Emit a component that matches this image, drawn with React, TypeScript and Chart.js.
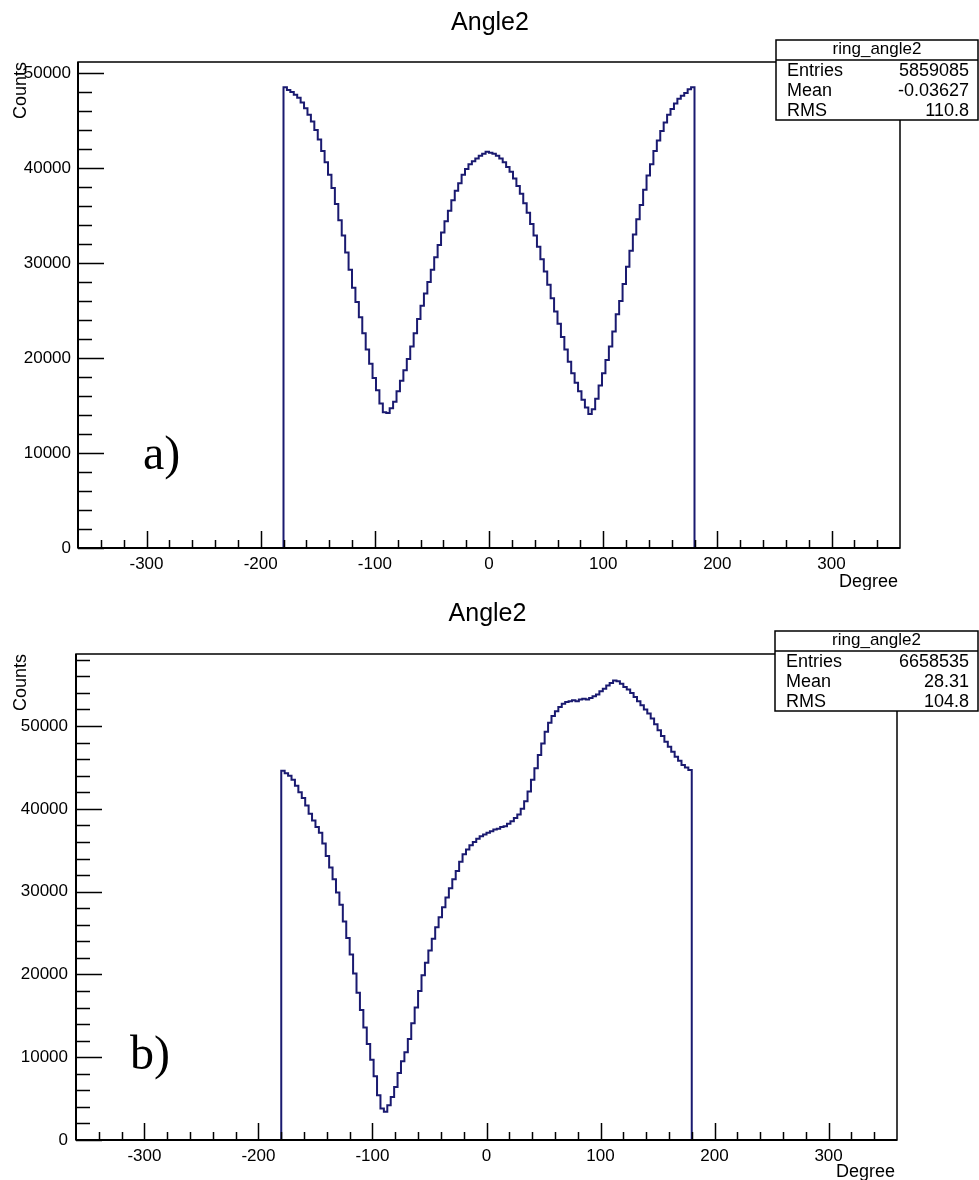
import React, { useEffect, useRef } from "react";
import { Chart, registerables } from "chart.js";

Chart.register(...registerables);

// ---------- data ----------
const binStart = -180;
const binWidth = 3;
const xTickValues = [-300, -200, -100, 0, 100, 200, 300];
const yTickValues = [0, 10000, 20000, 30000, 40000, 50000];

const histTitle = "Angle2";
const histName = "ring_angle2";
const xAxisTitle = "Degree";
const yAxisTitle = "Counts";
const statsLabels = ["Entries", "Mean", "RMS"];
const statsValuesA = ["5859085", "-0.03627", "110.8"];
const statsValuesB = ["6658535", "28.31", "104.8"];

// counts per 3-degree bin, from -180 to 180 (panel a)
const countsA = [
  48500, 48200, 48000, 47700, 47400, 46900, 46300, 45600, 44900, 44000,
  43000, 41800, 40600, 39300, 37900, 36200, 34500, 32900, 31100, 29300,
  27400, 25900, 24300, 22600, 20900, 19400, 17900, 16600, 15200, 14300,
  14200, 14700, 15400, 16500, 17600, 18700, 19900, 21200, 22600, 24100,
  25500, 26800, 28000, 29300, 30600, 31900, 33200, 34400, 35500, 36600,
  37600, 38400, 39300, 39900, 40400, 40700, 41000, 41300, 41500, 41700,
  41600, 41500, 41300, 41000, 40600, 40100, 39600, 38900, 38100, 37300,
  36300, 35300, 34100, 32900, 31700, 30400, 29100, 27700, 26300, 24900,
  23600, 22200, 20900, 19600, 18400, 17400, 16500, 15600, 14800, 14100,
  14600, 15700, 17100, 18400, 19800, 21200, 22800, 24600, 26000, 27800,
  29600, 31300, 33000, 34600, 36100, 37700, 39200, 40400, 41800, 42900,
  43900, 44800, 45600, 46200, 46800, 47300, 47600, 47900, 48300, 48500,
];

// counts per 3-degree bin, from -180 to 180 (panel b)
const countsB = [
  44600, 44300, 44000, 43500, 42800, 42000, 41300, 40400, 39400, 38600,
  37800, 37100, 35800, 34300, 32900, 31500, 29900, 28400, 26400, 24400,
  22400, 20100, 17800, 15700, 13600, 11600, 9700, 7700, 5400, 3800,
  3400, 4200, 5200, 6400, 8100, 9500, 10600, 12200, 14100, 16000,
  18000, 19900, 21400, 22900, 24300, 25700, 26900, 28100, 29300, 30400,
  31500, 32500, 33600, 34500, 35100, 35600, 36000, 36400, 36700, 36900,
  37100, 37300, 37500, 37600, 37800, 37900, 38200, 38500, 38900, 39300,
  40000, 40900, 42100, 43500, 44900, 46500, 47900, 49300, 50400, 51200,
  51800, 52300, 52700, 52900, 53000, 53100, 53000, 53200, 53300, 53200,
  53400, 53600, 53800, 54200, 54500, 54900, 55200, 55500, 55400, 55100,
  54700, 54400, 54000, 53500, 53000, 52500, 52000, 51500, 50900, 50200,
  49500, 48800, 48100, 47500, 46900, 46300, 45800, 45300, 45000, 44700,
];

// ---------- helpers ----------
function histPoints(counts: number[]) {
  const pts: { x: number; y: number }[] = [{ x: binStart, y: 0 }];
  counts.forEach((c, i) => pts.push({ x: binStart + i * binWidth, y: c }));
  const end = binStart + counts.length * binWidth;
  pts.push({ x: end, y: counts[counts.length - 1] });
  pts.push({ x: end, y: 0 });
  return pts;
}

type Geom = {
  left: number;
  right: number;
  top: number;
  bottom: number;
  height: number;
  yMax: number;
  yPad: number;
  titleY: number;
  boxLeft: number;
  boxTop: number;
  boxBottom: number;
  tag: string;
  tagX: number;
  tagY: number;
  degreeY: number;
};

const SANS = "'Liberation Sans', Arial, Helvetica, sans-serif";

function Panel({ counts, stats, g }: { counts: number[]; stats: string[]; g: Geom }) {
  const ref = useRef<HTMLCanvasElement | null>(null);

  useEffect(() => {
    if (!ref.current) return;
    const decor = {
      id: "rootDecor",
      afterDraw(chart: any) {
        const ctx = chart.ctx as CanvasRenderingContext2D;
        const { left, right, top, bottom } = chart.chartArea;
        const xs = chart.scales.x;
        const ys = chart.scales.y;
        ctx.save();
        ctx.strokeStyle = "#000";
        ctx.fillStyle = "#000";

        // frame
        ctx.lineWidth = 1.5;
        ctx.strokeRect(left, top, right - left, bottom - top);
        ctx.lineWidth = 2;
        ctx.beginPath();
        ctx.moveTo(left, bottom);
        ctx.lineTo(right, bottom);
        ctx.moveTo(left, top);
        ctx.lineTo(left, bottom);
        ctx.stroke();

        // ticks (inward, ROOT style)
        ctx.lineWidth = 1.5;
        ctx.beginPath();
        for (let v = xs.min + 20; v < xs.max; v += 20) {
          const px = Math.round(xs.getPixelForValue(v)) + 0.5;
          const major = xTickValues.includes(v);
          ctx.moveTo(px, bottom);
          ctx.lineTo(px, bottom - (major ? 17 : 8));
        }
        for (let v = 0; v <= ys.max + 1e-6; v += 2000) {
          const py = Math.round(ys.getPixelForValue(v)) + 0.5;
          const major = v % 10000 === 0;
          ctx.moveTo(left, py);
          ctx.lineTo(left + (major ? 26 : 14), py);
        }
        ctx.stroke();

        // title
        ctx.font = `25px ${SANS}`;
        ctx.textAlign = "center";
        ctx.textBaseline = "middle";
        ctx.fillText(histTitle, (left + right) / 2 + 1, g.titleY);

        // axis titles
        ctx.font = `18px ${SANS}`;
        ctx.textAlign = "right";
        ctx.fillText(xAxisTitle, right - 2, g.degreeY);
        ctx.save();
        ctx.translate(21, top);
        ctx.rotate(-Math.PI / 2);
        ctx.font = `18px ${SANS}`;
        ctx.textAlign = "right";
        ctx.fillText(yAxisTitle, 0, 0);
        ctx.restore();

        // tag a) / b)
        ctx.font = `48px 'Liberation Serif', 'Times New Roman', serif`;
        ctx.textAlign = "left";
        ctx.textBaseline = "alphabetic";
        ctx.fillText(g.tag, g.tagX, g.tagY);

        // stats box (4 equal rows, ROOT TPaveStats style)
        const bw = 978 - g.boxLeft;
        const bh = g.boxBottom - g.boxTop;
        const rh = bh / 4;
        ctx.fillStyle = "#fff";
        ctx.fillRect(g.boxLeft, g.boxTop, bw, bh);
        ctx.lineWidth = 1.5;
        ctx.strokeRect(g.boxLeft, g.boxTop, bw, bh);
        ctx.beginPath();
        ctx.moveTo(g.boxLeft, g.boxTop + rh);
        ctx.lineTo(978, g.boxTop + rh);
        ctx.stroke();
        ctx.fillStyle = "#000";
        ctx.font = `17px ${SANS}`;
        ctx.textBaseline = "middle";
        ctx.textAlign = "center";
        ctx.fillText(histName, g.boxLeft + bw / 2, g.boxTop + rh / 2 - 1);
        ctx.font = `18px ${SANS}`;
        statsLabels.forEach((lab, i) => {
          const y = g.boxTop + rh * (i + 1.5) + 1;
          ctx.textAlign = "left";
          ctx.fillText(lab, g.boxLeft + 11, y);
          ctx.textAlign = "right";
          ctx.fillText(stats[i], 969, y);
        });
        ctx.restore();
      },
    };

    const chart = new Chart(ref.current, {
      type: "line",
      data: {
        datasets: [
          {
            data: histPoints(counts),
            stepped: "before",
            borderColor: "#1a1a70",
            borderWidth: 2,
            pointRadius: 0,
            fill: false,
          },
        ],
      },
      options: {
        animation: false,
        responsive: false,
        devicePixelRatio: 1,
        events: [],
        layout: { padding: { top: g.top, right: 979 - g.right, left: 0, bottom: 0 } },
        plugins: {
          legend: { display: false },
          title: { display: false },
          tooltip: { enabled: false },
        },
        scales: {
          x: {
            type: "linear",
            min: -360,
            max: 360,
            afterBuildTicks: (s: any) => {
              s.ticks = xTickValues.map((v) => ({ value: v }));
            },
            afterFit: (s: any) => {
              s.height = g.height - g.bottom;
            },
            grid: { display: false, drawTicks: false },
            border: { display: false },
            ticks: {
              padding: 6,
              color: "#000",
              maxRotation: 0,
              autoSkip: false,
              font: { family: SANS, size: 17 },
              callback: (v: any) => String(v),
            },
          },
          y: {
            type: "linear",
            min: 0,
            max: g.yMax,
            afterBuildTicks: (s: any) => {
              s.ticks = yTickValues.map((v) => ({ value: v }));
            },
            afterFit: (s: any) => {
              s.width = g.left;
            },
            grid: { display: false, drawTicks: false },
            border: { display: false },
            ticks: {
              padding: g.yPad,
              color: "#000",
              autoSkip: false,
              font: { family: SANS, size: 17 },
              callback: (v: any) => String(v),
            },
          },
        },
      },
      plugins: [decor],
    } as any);
    return () => chart.destroy();
  }, []);

  return <canvas ref={ref} width={979} height={g.height} style={{ display: "block" }} />;
}

const geomA: Geom = {
  left: 78,
  right: 900,
  top: 62,
  bottom: 548,
  height: 590,
  yMax: 51160,
  yPad: 7,
  titleY: 23,
  boxLeft: 776,
  boxTop: 40,
  boxBottom: 120,
  tag: "a)",
  tagX: 143,
  tagY: 469,
  degreeY: 582,
};

const geomB: Geom = {
  left: 76,
  right: 897,
  top: 64,
  bottom: 550,
  height: 590,
  yMax: 58700,
  yPad: 8,
  titleY: 24,
  boxLeft: 775,
  boxTop: 41,
  boxBottom: 121,
  tag: "b)",
  tagX: 130,
  tagY: 479,
  degreeY: 582,
};

export default function App() {
  return (
    <div style={{ position: "absolute", left: 0, top: 0, width: 979, height: 1180, background: "#fff" }}>
      <Panel counts={countsA} stats={statsValuesA} g={geomA} />
      <Panel counts={countsB} stats={statsValuesB} g={geomB} />
    </div>
  );
}
